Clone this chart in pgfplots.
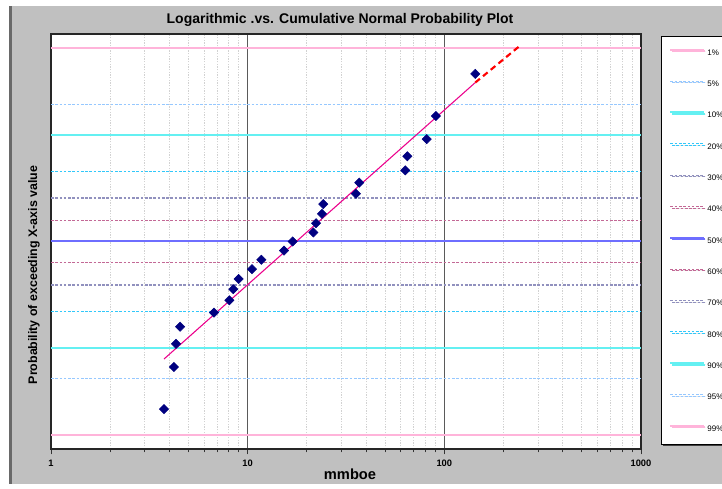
\documentclass[border=0pt]{standalone}
\usepackage{fontspec}
\setmainfont{Liberation Sans}
\usepackage{pgfplots}
\pgfplotsset{compat=1.18}
\usetikzlibrary{shadows}

\definecolor{chartgray}{RGB}{192,192,192}
\definecolor{edgegray}{RGB}{105,105,105}
\definecolor{majgray}{RGB}{90,90,90}
\definecolor{pinkline}{RGB}{255,180,218}
\definecolor{paleblue}{RGB}{150,200,255}
\definecolor{cyanline}{RGB}{100,240,242}
\definecolor{skyblue}{RGB}{50,200,250}
\definecolor{lavgray}{RGB}{145,145,190}
\definecolor{rosered}{RGB}{195,105,150}
\definecolor{fiftyblue}{RGB}{110,110,255}
\definecolor{navy}{RGB}{0,0,128}

\begin{document}
\begin{tikzpicture}
% chart area (1px = 0.75pt)
\fill[white] (0,0) rectangle (541.5pt,366.75pt);
\fill[chartgray] (6.75pt,3.75pt) rectangle (545pt,362.25pt);
\draw[line width=2pt, edgegray] (7.75pt,3.75pt) -- (7.75pt,362.25pt);

\begin{axis}[
  at={(38.25pt,30pt)}, anchor=south west,
  scale only axis, width=442.5pt, height=311.25pt,
  xmode=log, xmin=1, xmax=1000, ymin=-2.5, ymax=2.5,
  xtick={1,10,100,1000}, xticklabels={1,10,100,1000},
  minor xtick={2,3,4,5,6,7,8,9,20,30,40,50,60,70,80,90,200,300,400,500,600,700,800,900},
  ytick=\empty,
  tick pos=left, tick align=outside,
  major tick length=4pt, minor tick length=2.5pt,
  tick style={black!80, line width=0.6pt},
  xmajorgrids, xminorgrids,
  major grid style={line width=1.1pt, majgray},
  minor grid style={line width=0.6pt, gray!35, dash pattern=on 1pt off 1pt},
  axis line style={line width=1pt, black!85},
  axis background/.style={fill=white},
  /pgf/number format/assume math mode=true,
  xticklabel style={font=\fontsize{7}{8}\selectfont\bfseries, yshift=-1pt},
  legend style={
    at={(1.0339,0.9952)}, anchor=north west,
    draw=black, line width=0.7pt,
    fill=white,
    drop shadow={shadow xshift=1.2pt, shadow yshift=-1.2pt, fill=black!75, opacity=1},
    font=\fontsize{6}{7}\selectfont,
    row sep=15.5pt, column sep=1pt,
    inner xsep=6pt, inner ysep=8pt,
    nodes={inner sep=1pt, text height=5pt, text depth=1pt},
  },
  legend cell align=left,
  legend image code/.code={\draw[#1] (0pt,2pt) -- (25pt,2pt);},
]
% horizontal probability lines (normal quantiles)
\addplot[draw=pinkline, line width=1.5pt] coordinates {(1,2.326) (1000,2.326)};
\addlegendentry{1\%}
\addplot[draw=paleblue, line width=0.7pt, dash pattern=on 2pt off 1.2pt] coordinates {(1,1.645) (1000,1.645)};
\addlegendentry{5\%}
\addplot[draw=cyanline, line width=1.5pt] coordinates {(1,1.282) (1000,1.282)};
\addlegendentry{10\%}
\addplot[draw=skyblue, line width=0.8pt, dash pattern=on 2pt off 1.2pt] coordinates {(1,0.842) (1000,0.842)};
\addlegendentry{20\%}
\addplot[draw=lavgray, line width=0.8pt, dash pattern=on 2pt off 1.2pt] coordinates {(1,0.524) (1000,0.524)};
\addlegendentry{30\%}
\addplot[draw=rosered, line width=0.8pt, dash pattern=on 2pt off 1.2pt] coordinates {(1,0.253) (1000,0.253)};
\addlegendentry{40\%}
\addplot[draw=fiftyblue, line width=1.5pt] coordinates {(1,0) (1000,0)};
\addlegendentry{50\%}
\addplot[draw=rosered, line width=0.8pt, dash pattern=on 2pt off 1.2pt] coordinates {(1,-0.253) (1000,-0.253)};
\addlegendentry{60\%}
\addplot[draw=lavgray, line width=0.8pt, dash pattern=on 2pt off 1.2pt] coordinates {(1,-0.524) (1000,-0.524)};
\addlegendentry{70\%}
\addplot[draw=skyblue, line width=0.8pt, dash pattern=on 2pt off 1.2pt] coordinates {(1,-0.842) (1000,-0.842)};
\addlegendentry{80\%}
\addplot[draw=cyanline, line width=1.5pt] coordinates {(1,-1.282) (1000,-1.282)};
\addlegendentry{90\%}
\addplot[draw=paleblue, line width=0.7pt, dash pattern=on 2pt off 1.2pt] coordinates {(1,-1.645) (1000,-1.645)};
\addlegendentry{95\%}
\addplot[draw=pinkline, line width=1.5pt] coordinates {(1,-2.326) (1000,-2.326)};
\addlegendentry{99\%}

% fitted line and its extrapolation
\addplot[magenta, line width=0.8pt, forget plot] coordinates {(3.755,-1.416) (143.7,1.915)};
\addplot[red, line width=1.6pt, dash pattern=on 4.5pt off 3pt, forget plot] coordinates {(143.7,1.915) (240,2.35)};

% observations
\addplot[only marks, mark=square*, mark size=2.45pt, mark options={rotate=45, fill=navy, draw=navy}, forget plot]
coordinates {
(3.755,-2.019) (4.22,-1.512) (4.32,-1.233) (4.53,-1.027) (6.74,-0.857)
(8.07,-0.709) (8.45,-0.575) (9.00,-0.451) (10.52,-0.333) (11.73,-0.220)
(15.30,-0.109) (16.94,0) (21.57,0.109) (22.26,0.220) (23.87,0.333)
(24.24,0.451) (35.54,0.575) (36.94,0.709) (63.32,0.857) (64.82,1.027)
(81.35,1.233) (90.70,1.512) (143.7,2.019)
};
\end{axis}

\node[font=\fontsize{10.5}{12}\selectfont\bfseries] at (255pt,352pt) {Logarithmic .vs. Cumulative Normal Probability Plot};
\node[font=\fontsize{11}{13}\selectfont\bfseries] at (262.5pt,11.25pt) {mmboe};
\node[font=\fontsize{9.3}{11}\selectfont\bfseries, rotate=90] at (25.5pt,160.5pt) {Probability of exceeding X-axis value};

\pgfresetboundingbox
\path[use as bounding box] (0,0) rectangle (541.5pt,366.75pt);
\end{tikzpicture}
\end{document}
